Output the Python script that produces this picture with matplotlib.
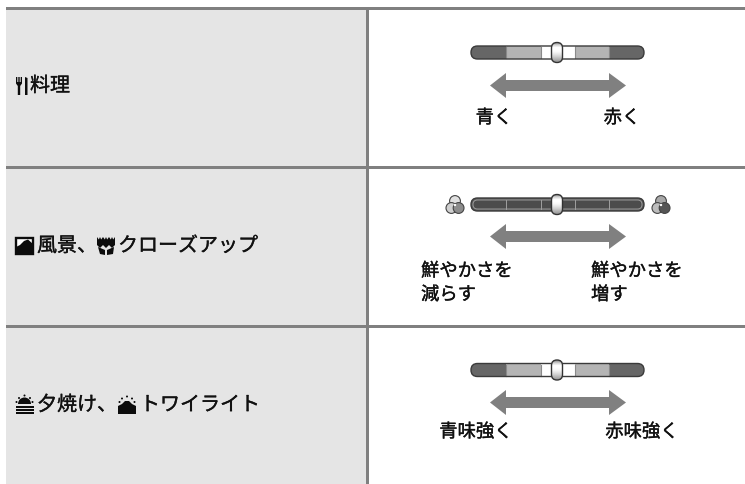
import numpy as np
import matplotlib
matplotlib.use("Agg")
import matplotlib.pyplot as plt
import matplotlib.patheffects as pe
from matplotlib.patches import Rectangle, FancyBboxPatch, Polygon, Circle, Wedge

plt.rcParams['font.family'] = ['Noto Sans CJK JP', 'DejaVu Sans']

# content
row_labels = [["料理"], ["風景、", "クローズアップ"], ["夕焼け、", "トワイライト"]]
row_label_x = [[30], [37, 118], [37, 140]]
row_label_y = [86, 246, 405]
row_lines_y = [8.5, 167.5, 326.5]
slider_y = [52.5, 204.5, 370]
arrow_y = [85.5, 236.5, 402.5]
captions = [
    [("青く", 494, 118, "center"), ("赤く", 622, 118, "center")],
    [("鮮やかさを\n減らす", 421, 283, "left"), ("鮮やかさを\n増す", 591, 283, "left")],
    [("青味強く", 476, 432, "center"), ("赤味強く", 642, 432, "center")],
]
seg_edges = [471, 506, 541, 575, 609, 644]
seg_colors = ["#666666", "#b4b4b4", "#ffffff", "#b4b4b4", "#666666"]

LINE = "#808080"
PANEL = "#e5e5e5"
INK = "#111111"
K = "#0c0c0c"

fig = plt.figure(figsize=(7.45, 4.84), dpi=100)
ax = fig.add_axes([0, 0, 1, 1])
ax.set_xlim(0, 745)
ax.set_ylim(484, 0)
ax.axis("off")

# table frame
ax.add_patch(Rectangle((6, 8), 361, 476, fc=PANEL, ec="none", zorder=0))
for y in row_lines_y:
    ax.add_patch(Rectangle((6, y - 1.5), 739, 3, fc=LINE, ec="none", zorder=1))
ax.add_patch(Rectangle((366, 8), 3, 476, fc=LINE, ec="none", zorder=1))


def rounded(x0, x1, cy, h, **kw):
    r = h / 2
    return FancyBboxPatch((x0, cy - h / 2), x1 - x0, h,
                          boxstyle=f"round,pad=0,rounding_size={r}", **kw)


def knob(cx, cy):
    shape = FancyBboxPatch((cx - 5.5, cy - 10), 11, 20,
                           boxstyle="round,pad=0,rounding_size=5.5",
                           fc="none", ec="#333333", lw=1.0, zorder=6)
    ax.add_patch(shape)
    grad = np.array([0.62, 0.85, 1.0, 1.0, 0.97, 0.9, 0.82, 0.72, 0.62]).reshape(-1, 1)
    im = ax.imshow(grad, extent=(cx - 6, cx + 6, cy + 10, cy - 10), cmap="gray",
                   vmin=0, vmax=1, aspect="auto", zorder=5.5, interpolation="bilinear")
    im.set_clip_path(shape)
    ax.set_xlim(0, 745)
    ax.set_ylim(484, 0)


def segmented_slider(cy):
    clip = rounded(seg_edges[0], seg_edges[-1], cy, 13, fc="none", ec="#3a3a3a", lw=1.0, zorder=4)
    ax.add_patch(clip)
    for a, b, c in zip(seg_edges[:-1], seg_edges[1:], seg_colors):
        r = Rectangle((a, cy - 6.5), b - a, 13, fc=c, ec="none", zorder=3)
        ax.add_patch(r)
        r.set_clip_path(clip)
    for e in seg_edges[1:-1]:
        ax.plot([e, e], [cy - 5.5, cy + 5.5], color="#8a8a8a", lw=0.8, zorder=3.5)
    knob(557, cy)


def dark_slider(cy):
    ax.add_patch(rounded(seg_edges[0], seg_edges[-1], cy, 13, fc="#5a5a5a", ec="#3a3a3a", lw=1.0, zorder=3))
    ax.add_patch(rounded(seg_edges[0] + 2, seg_edges[-1] - 2, cy, 9, fc="#4c4c4c", ec="#9a9a9a", lw=0.7, zorder=3.2))
    for e in seg_edges[1:-1]:
        ax.plot([e, e], [cy - 4.5, cy + 4.5], color="#a0a0a0", lw=0.7, zorder=3.5)
    knob(557, cy)


def arrow(cy):
    xs = [490, 506, 506, 609, 609, 626, 609, 609, 506, 506]
    ys = [cy, cy - 12.5, cy - 5.5, cy - 5.5, cy - 12.5, cy, cy + 12.5, cy + 5.5, cy + 5.5, cy + 12.5]
    ax.add_patch(Polygon(np.column_stack([xs, ys]), fc=LINE, ec="none", zorder=3))


def colour_dots(cx, cy, shades):
    pts = [(cx, cy - 4), (cx - 3.6, cy + 3), (cx + 3.6, cy + 3)]
    for (x, y), s in zip(pts, shades):
        ax.add_patch(Circle((x, y), 5.4, fc=s, ec="#444444", lw=0.8, zorder=3))
    ax.add_patch(Circle((cx, cy), 1.2, fc="white", ec="none", zorder=4))


def icon_cutlery(x, cy):
    ax.add_patch(Polygon([(x, cy - 9), (x + 1.3, cy - 9), (x + 1.3, cy - 4), (x + 2.3, cy - 4), (x + 2.3, cy - 9), (x + 3.7, cy - 9),
                          (x + 3.7, cy - 4), (x + 4.7, cy - 4), (x + 4.7, cy - 9), (x + 6, cy - 9), (x + 6, cy - 2.5),
                          (x + 4.2, cy), (x + 4.2, cy + 9), (x + 1.8, cy + 9), (x + 1.8, cy), (x, cy - 2.5)], fc=K, ec="none", zorder=4))
    ax.add_patch(Polygon([(x + 9, cy - 9), (x + 11.5, cy - 8), (x + 11.5, cy + 9), (x + 9, cy + 9)], fc=K, ec="none", zorder=4))


def icon_landscape(x, cy):
    ax.add_patch(Rectangle((x + 0.8, cy - 8.2), 17.4, 16.4, fc="white", ec=K, lw=1.7, zorder=4))
    ax.add_patch(Polygon([(x + 1, cy + 8), (x + 1, cy + 1), (x + 5, cy - 1), (x + 9, cy - 5), (x + 13, cy - 6.5), (x + 18, cy - 2), (x + 18, cy + 8)],
                         fc=K, ec="none", zorder=5))


def icon_flower(x, cy):
    for dx in (0, 6, 12):
        ax.add_patch(Polygon([(x + dx, cy - 9), (x + dx + 1.8, cy - 6.5), (x + dx + 3, cy - 9), (x + dx + 4.2, cy - 6.5), (x + dx + 6, cy - 9), (x + dx + 6, cy - 1),
                              (x + dx + 3, cy + 2), (x + dx, cy - 1)], fc=K, ec="none", zorder=4))
    ax.add_patch(Polygon([(x + 1, cy + 1), (x + 8, cy + 4), (x + 8, cy + 9), (x + 3, cy + 8)], fc=K, ec="none", zorder=4))
    ax.add_patch(Polygon([(x + 10, cy + 4), (x + 17, cy + 1), (x + 16, cy + 8), (x + 10, cy + 9)], fc=K, ec="none", zorder=4))


def icon_sunset(x, cy):
    ax.add_patch(Wedge((x + 9.5, cy - 1), 6.5, 180, 360, fc=K, ec="none", zorder=4))
    for i in range(3):
        ax.add_patch(Rectangle((x + 0.5, cy + 1 + i * 3), 18.5, 2.2, fc=K, ec="none", zorder=4))
    for dx, dy in ((1.5, -3), (4, -7), (9.5, -9.5), (15, -7), (17.5, -3)):
        ax.add_patch(Circle((x + dx, cy + dy), 1.0, fc=K, ec="none", zorder=4))


def icon_twilight(x, cy):
    ax.add_patch(Polygon([(x + 1, cy + 9), (x + 1, cy + 1), (x + 5, cy - 1), (x + 8, cy - 4), (x + 12, cy - 4), (x + 15, cy - 1), (x + 19, cy + 1), (x + 19, cy + 9)],
                         fc=K, ec="none", zorder=4))
    for dx, dy in ((2.5, -3), (5, -6.5), (10, -8.5), (15, -6.5), (17.5, -3)):
        ax.add_patch(Circle((x + dx, cy + dy), 1.0, fc=K, ec="none", zorder=4))


# sliders and arrows
segmented_slider(slider_y[0])
dark_slider(slider_y[1])
segmented_slider(slider_y[2])
for y in arrow_y:
    arrow(y)
colour_dots(455, 205, ["#e0e0e0", "#cfcfcf", "#8c8c8c"])
colour_dots(661, 205, ["#a8a8a8", "#bdbdbd", "#555555"])

# icons
icon_cutlery(16, row_label_y[0])
icon_landscape(15, row_label_y[1])
icon_flower(97, row_label_y[1])
icon_sunset(15, row_label_y[2])
icon_twilight(117, row_label_y[2])

# labels
bold = [pe.withStroke(linewidth=0.25, foreground=INK)]
for texts, xs, y in zip(row_labels, row_label_x, row_label_y):
    for t, x in zip(texts, xs):
        ax.text(x, y, t, fontsize=14.4, color=INK, ha="left", va="center", zorder=6, path_effects=bold)
for row in captions:
    for t, x, y, ha in row:
        ax.text(x, y, t, fontsize=13.2, color=INK, ha=ha, va="center", linespacing=1.4, zorder=6, path_effects=bold)

fig.savefig("out.png", dpi=100)
